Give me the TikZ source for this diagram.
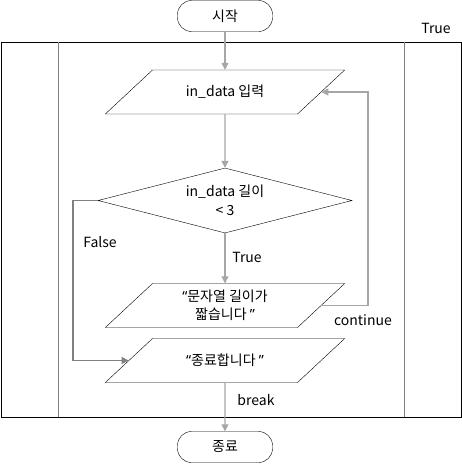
\documentclass[tikz,border=0pt]{standalone}
\usepackage{fontspec}
\setmainfont{Noto Sans CJK KR}
\newfontfamily\quotefont{Noto Sans}
\usetikzlibrary{arrows.meta,shapes.geometric}

\definecolor{flowgray}{HTML}{A6A6A6}
\definecolor{framegray}{HTML}{808080}

\newcommand{\iobox}[1]{\parbox[c][44pt][c]{145pt}{\centering #1}}
\newcommand{\openq}{{\quotefont “}}
\newcommand{\closeq}{{\quotefont ”}}

\tikzset{
  term/.style={rectangle,rounded corners=14pt,draw,thin,minimum width=95pt,minimum height=31pt,inner sep=0pt},
  io/.style={trapezium,trapezium left angle=43,trapezium right angle=137,draw,thin,inner sep=0pt},
  test/.style={diamond,draw,thin,aspect=3.9,minimum width=254pt,minimum height=65pt,inner sep=0pt,align=center},
  flow/.style={draw=flowgray,line width=1.2pt,-{Triangle[length=7pt,width=7pt]}},
  lbl/.style={inner sep=0pt}
}

\begin{document}
\begin{tikzpicture}[x=1pt,y=-1pt,font=\fontsize{14}{18.5}\selectfont]
\useasboundingbox (0,0) rectangle (462,466);

% loop frame
\draw[line width=0.9pt] (1,42) rectangle (461,417);
\draw[framegray,line width=0.9pt] (58,42) -- (58,417);
\draw[framegray,line width=0.9pt] (404,42) -- (404,417);
\node[lbl] (looptrue) at (436,28) {True};

% blocks
\node[term] (start) at (225,16) {시작};
\node[io] (input) at (225,92) {\iobox{in\_data 입력}};
\node[test] (cond) at (225,200.5) {in\_data 길이\\< 3};
\node[io] (short) at (225,305.5) {\iobox{\openq 문자열 길이가\\짧습니다 \closeq}};
\node[io] (bye) at (225,360.5) {\iobox{\openq 종료합니다 \closeq}};
\node[term] (stop) at (225,447) {종료};

\coordinate (loopR) at (368,0);
\coordinate (loopL) at (73,0);

% connectors
\path[flow] (start) -- (input);
\path[flow] (input) -- (cond);
\path[flow] (cond) -- (short);
\path[flow] (short.east) -- (short.east -| loopR) |- (input.east);
\path[flow,draw=framegray] (cond.west) -- (cond.west -| loopL) |- (bye.west);
\path[flow] (bye) -- (stop);

% labels
\node[lbl] (yes) at (247,257) {True};
\node[lbl] (no) at (100,242) {False};
\node[lbl] (cont) at (363,320) {continue};
\node[lbl] (brk) at (256,400) {break};
\end{tikzpicture}
\end{document}
